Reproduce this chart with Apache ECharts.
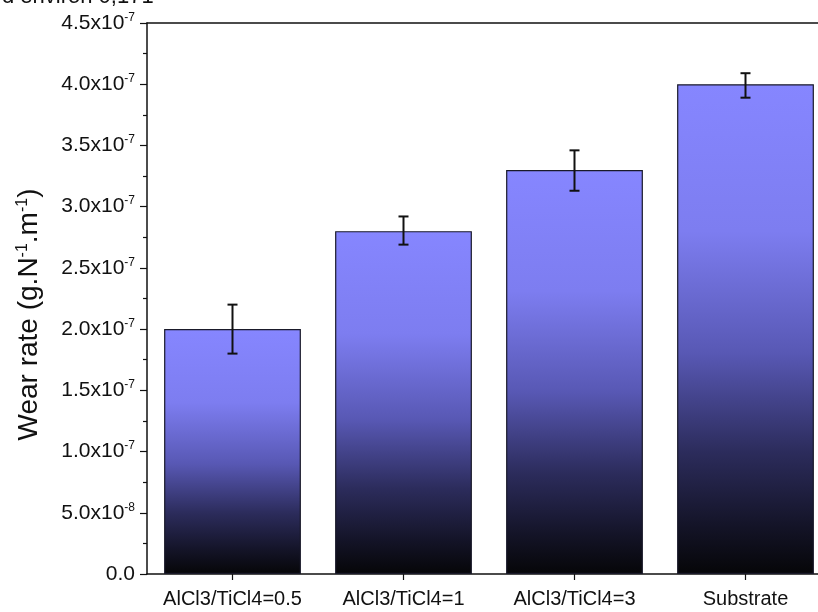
<!DOCTYPE html>
<html>
<head>
<meta charset="utf-8">
<script src="https://cdn.jsdelivr.net/npm/echarts@6/dist/echarts.min.js"></script>
<style>html,body{margin:0;padding:0;background:#fff;}#c{width:818px;height:612px;}</style>
</head>
<body>
<div id="c"></div>
<script>
const categories = ['AlCl3/TiCl4=0.5', 'AlCl3/TiCl4=1', 'AlCl3/TiCl4=3', 'Substrate'];
const wearRate = [2.0e-7, 2.8e-7, 3.3e-7, 4.0e-7];
const errLow = [1.8e-7, 2.69e-7, 3.13e-7, 3.89e-7];
const errHigh = [2.2e-7, 2.92e-7, 3.46e-7, 4.09e-7];
const yMin = 0, yMax = 4.5e-7, yStep = 0.5e-7;

const chart = echarts.init(document.getElementById('c'));
const FONT = 'Liberation Sans, Arial, sans-serif';

function fmt(v) {
  if (Math.abs(v) < 1e-12) return '{a|0.0}';
  const s = v.toExponential(1).split('e');
  return '{a|' + s[0] + 'x10}{s|' + parseInt(s[1], 10) + '}';
}

const gradient = new echarts.graphic.LinearGradient(0, 0, 0, 1, [
  {offset: 0, color: '#8686ff'},
  {offset: 0.3, color: '#7d7df0'},
  {offset: 0.55, color: '#5858b4'},
  {offset: 0.75, color: '#2c2c5c'},
  {offset: 0.9, color: '#141428'},
  {offset: 1, color: '#060608'}
]);

chart.setOption({
  animation: false,
  backgroundColor: '#fff',
  textStyle: {fontFamily: FONT},
  graphic: [{
    type: 'text', left: 2, top: -14,
    style: {text: 'd environ 0,171', font: '22px ' + FONT, fill: '#111'}
  }],
  grid: {left: 147, top: 23, width: 684, bottom: 38, outerBoundsMode: 'none', containLabel: false},
  xAxis: [{
    type: 'category',
    data: categories,
    axisLine: {lineStyle: {color: '#111', width: 1.5}},
    axisTick: {show: true, alignWithLabel: true, length: 6, lineStyle: {color: '#111', width: 1.2}},
    axisLabel: {color: '#111', fontSize: 20, fontFamily: FONT, margin: 15, interval: 0}
  }, {
    type: 'category',
    position: 'top',
    data: categories,
    axisLine: {show: true, lineStyle: {color: '#111', width: 1.5}},
    axisTick: {show: false},
    axisLabel: {show: false}
  }],
  yAxis: {
    type: 'value',
    min: yMin, max: yMax, interval: yStep,
    name: '{a|Wear rate (g.N}{s|-1}{a|.m}{s|-1}{a|)}',
    nameLocation: 'middle',
    nameGap: 104,
    nameRotate: 90,
    nameTextStyle: {
      padding: [0, 32, 0, 0],
      rich: {
        a: {fontSize: 28, color: '#111', fontFamily: FONT},
        s: {fontSize: 16, color: '#111', fontFamily: FONT, padding: [0, 0, 12, 0]}
      }
    },
    splitLine: {show: false},
    axisLine: {show: true, lineStyle: {color: '#111', width: 1.5}},
    axisTick: {show: true, length: 7, lineStyle: {color: '#111', width: 1.2}},
    minorTick: {show: true, splitNumber: 2, length: 4, lineStyle: {color: '#111', width: 1.2}},
    axisLabel: {
      margin: 12,
      formatter: fmt,
      rich: {
        a: {fontSize: 21, color: '#111', fontFamily: FONT},
        s: {fontSize: 12, color: '#111', fontFamily: FONT, padding: [0, 0, 11, 0]}
      }
    }
  },
  series: [
    {
      type: 'bar',
      data: wearRate,
      barCategoryGap: '20%',
      itemStyle: {color: gradient, borderColor: '#1a1a2a', borderWidth: 1.2}
    },
    {
      type: 'custom',
      data: categories.map((c, i) => [i, errLow[i], errHigh[i]]),
      z: 10,
      renderItem: function (params, api) {
        const x = api.value(0);
        const lo = api.coord([x, api.value(1)]);
        const hi = api.coord([x, api.value(2)]);
        const hw = 5;
        const st = {stroke: '#111', lineWidth: 2};
        return {
          type: 'group',
          children: [
            {type: 'line', shape: {x1: lo[0], y1: lo[1], x2: hi[0], y2: hi[1]}, style: st},
            {type: 'line', shape: {x1: hi[0] - hw, y1: hi[1], x2: hi[0] + hw, y2: hi[1]}, style: st},
            {type: 'line', shape: {x1: lo[0] - hw, y1: lo[1], x2: lo[0] + hw, y2: lo[1]}, style: st}
          ]
        };
      }
    }
  ]
});
</script>
</body>
</html>
